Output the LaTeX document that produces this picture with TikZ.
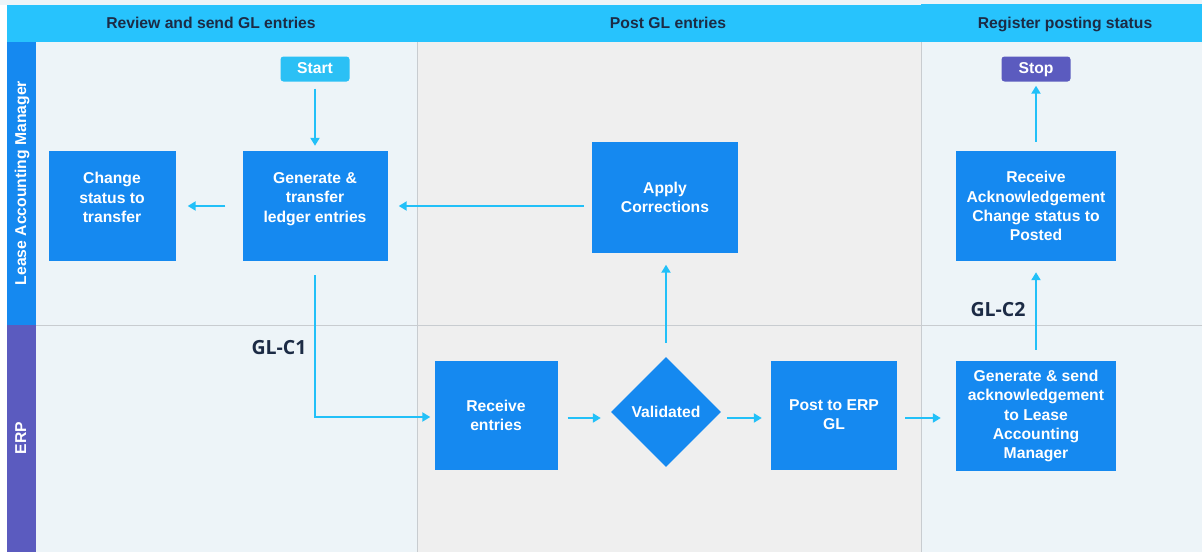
\documentclass[tikz,border=0pt]{standalone}
\usepackage{fontspec}
\setmainfont{Liberation Sans}
\newfontfamily\codefont{Open Sans}
\usetikzlibrary{arrows.meta,positioning,shapes.geometric}

\definecolor{headcyan}{HTML}{27C3FD}
\definecolor{boxblue}{HTML}{1589F0}
\definecolor{flowcyan}{HTML}{22C0F8}
\definecolor{startcyan}{HTML}{2BC0F5}
\definecolor{erppurple}{HTML}{5B5BBF}
\definecolor{paleblue}{HTML}{EDF4F8}
\definecolor{palegray}{HTML}{EFEFEF}
\definecolor{sepgray}{HTML}{C8CCD0}
\definecolor{navy}{HTML}{1C2B45}

\begin{document}
\begin{tikzpicture}[x=1pt,y=-1pt,
  every node/.style={font=\fontsize{15.7}{19.2}\selectfont\bfseries},
  head/.style={text=navy,anchor=base},
  lane/.style={text=white,rotate=90,text height=11pt,text depth=3pt},
  task/.style={rectangle,fill=boxblue,text=white,align=center,inner sep=0pt},
  term/.style={rectangle,rounded corners=3pt,text=white,minimum width=69pt,minimum height=25pt,inner sep=0pt,text height=11pt,text depth=3pt},
  check/.style={diamond,fill=boxblue,text=white,minimum width=110pt,minimum height=110pt,inner sep=0pt},
  code/.style={text=navy,font=\codefont\fontsize{19.5}{22}\selectfont\bfseries},
  flow/.style={flowcyan,line width=2.4pt,-{Triangle[length=8pt,width=9pt]},shorten <=10pt,shorten >=10pt}]

  \useasboundingbox (0,0) rectangle (1202,552);

  % background and lanes
  \fill[white] (0,0) rectangle (1202,552);
  \fill[paleblue] (0,0) rectangle (1202,5);
  \fill[paleblue] (36,42) rectangle (417,552);
  \fill[palegray] (417,42) rectangle (921,552);
  \fill[paleblue] (921,42) rectangle (1202,552);
  \fill[headcyan] (7,5) rectangle (921,42);
  \fill[headcyan] (921,4) rectangle (1202,42);
  \fill[boxblue] (7,42) rectangle (36,325);
  \fill[erppurple] (7,325) rectangle (36,552);
  \draw[sepgray] (36,325) -- (1202,325);
  \draw[sepgray] (417,42) -- (417,552);
  \draw[sepgray] (921,42) -- (921,552);

  % headers
  \node[head] (hreview) at (211,28) {Review and send GL entries};
  \node[head] (hpost) at (668,28) {Post GL entries};
  \node[head] (hregister) at (1065,28) {Register posting status};
  \node[lane] (llam) at (22,183) {Lease Accounting Manager};
  \node[lane] (lerp) at (22,438) {ERP};

  % steps
  \node[term,fill=startcyan] (start) at (315,69) {Start};
  \node[task,minimum width=145pt,minimum height=110pt] (gen) at (315,206) {Generate \&\\transfer\\ledger entries\\[-2pt]};
  \node[task,minimum width=127pt,minimum height=110pt] (change) at (112,206) {Change\\status to\\transfer\\[-2pt]};
  \node[task,minimum width=146pt,minimum height=111pt] (apply) at (665,197) {Apply\\Corrections};
  \node[task,minimum width=123pt,minimum height=109pt] (recv) at (496,415) {Receive\\entries};
  \node[check] (valid) at (666,412) {Validated};
  \node[task,minimum width=126pt,minimum height=109pt] (post) at (834,415) {Post to ERP\\GL};
  \node[task,minimum width=160pt,minimum height=110pt] (gsend) at (1036,416) {Generate \& send\\acknowledgement\\to Lease\\Accounting\\Manager};
  \node[task,minimum width=160pt,minimum height=110pt] (rack) at (1036,206) {Receive\\Acknowledgement\\Change status to\\Posted};
  \node[term,fill=erppurple] (stop) at (1036,69) {Stop};

  % connectors
  \draw[flow,shorten <=7pt,shorten >=5pt] (start) -- (gen);
  \draw[flow,shorten <=17pt,shorten >=12pt] (gen) -- (change);
  \draw[flow,shorten <=8pt,shorten >=11pt] (apply.west |- gen) -- (gen.east);
  \draw[flow,shorten <=14pt,shorten >=4pt] (gen.south) |- (recv.west |- 0,417);
  \draw[flow] (recv.east |- 0,418) -- (valid.west |- 0,418);
  \draw[flow,shorten <=14pt,shorten >=12pt] (valid.north) -- (apply.south -| valid.north);
  \draw[flow,shorten <=6pt,shorten >=9pt] (valid.east |- 0,418) -- (post.west |- 0,418);
  \draw[flow,shorten <=8pt,shorten >=15pt] (post.east |- 0,418) -- (gsend.west |- 0,418);
  \draw[flow,shorten <=11pt,shorten >=11pt] (gsend) -- (rack);
  \draw[flow,shorten <=9pt,shorten >=4pt] (rack) -- (stop);

  % interface codes
  \node[code] (c1) at (279,348) {GL-C1};
  \node[code] (c2) at (998,310) {GL-C2};

\end{tikzpicture}
\end{document}
